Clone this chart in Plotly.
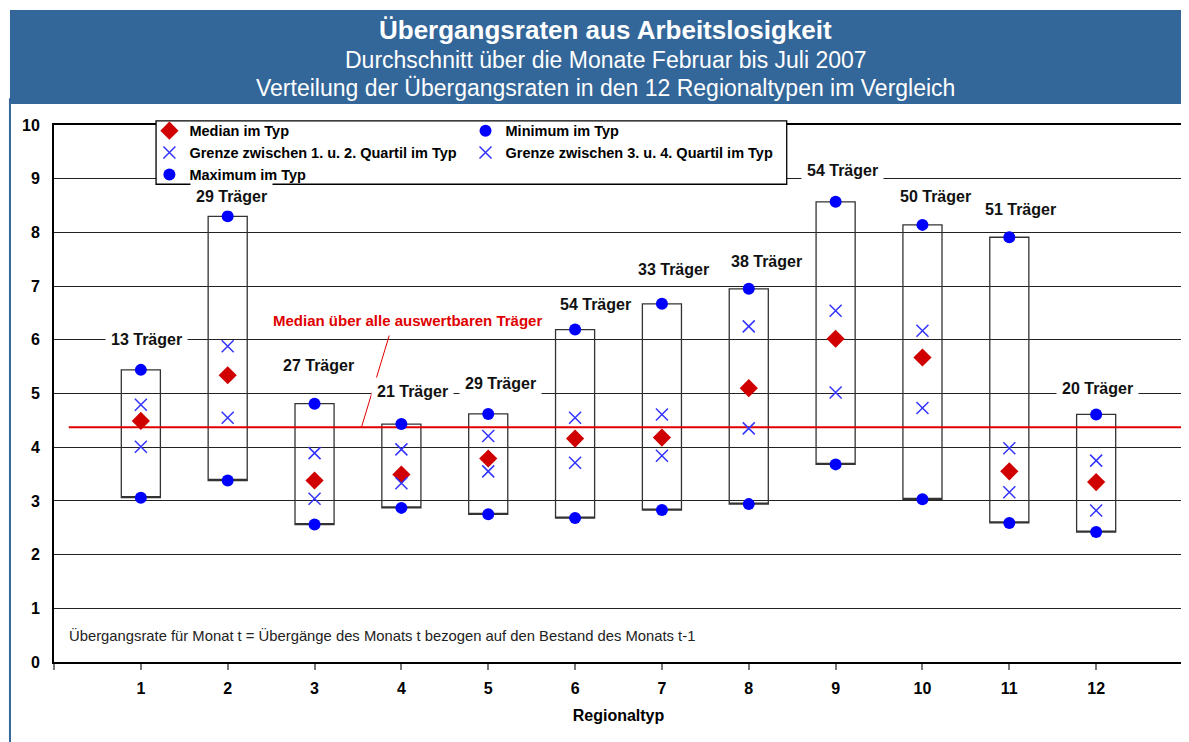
import plotly.graph_objects as go

# ---------------- data ----------------
types = [1, 2, 3, 4, 5, 6, 7, 8, 9, 10, 11, 12]
tick_labels = ["1", "2", "3", "4", "5", "6", "7", "8", "9", "10", "11", "12"]
maximum = [5.44, 8.30, 4.81, 4.43, 4.62, 6.19, 6.67, 6.95, 8.57, 8.14, 7.91, 4.61]
quartil_3_4 = [4.79, 5.88, 3.89, 3.96, 4.21, 4.55, 4.61, 6.25, 6.54, 6.17, 3.98, 3.75]
median = [4.49, 5.34, 3.38, 3.49, 3.79, 4.16, 4.18, 5.10, 6.02, 5.67, 3.55, 3.35]
quartil_1_2 = [4.01, 4.55, 3.04, 3.33, 3.55, 3.71, 3.84, 4.35, 5.02, 4.73, 3.16, 2.82]
minimum = [3.06, 3.38, 2.56, 2.87, 2.75, 2.68, 2.83, 2.94, 3.68, 3.03, 2.59, 2.42]
traeger = [13, 29, 27, 21, 29, 54, 33, 38, 54, 50, 51, 20]
median_gesamt = 4.37

# label placement (data coords)
label_x = [1.06, 2.04, 3.04, 4.13, 5.14, 6.23, 7.13, 8.20, 9.08, 10.15, 11.13, 12.02]
label_y = [6.0, 8.66, 5.53, 5.03, 5.18, 6.66, 7.31, 7.45, 9.16, 8.66, 8.42, 5.10]

FONT = "Liberation Sans, Arial, sans-serif"
BLUE_HDR = "#336699"
RED = "#E00000"

fig = go.Figure()

# min-max boxes
fig.add_trace(go.Box(
    x=types, q1=minimum, median=minimum, q3=maximum,
    lowerfence=minimum, upperfence=maximum,
    width=0.45, line=dict(color="#333333", width=1.3),
    fillcolor="rgba(0,0,0,0)", showlegend=False, hoverinfo="skip",
))

# overall median line
fig.add_trace(go.Scatter(
    x=[0.17, 13], y=[median_gesamt, median_gesamt], mode="lines",
    line=dict(color=RED, width=2), showlegend=False, hoverinfo="skip",
))

fig.add_trace(go.Scatter(
    x=types, y=median, mode="markers", name="Median im Typ",
    marker=dict(symbol="diamond", size=14, color="#D00000"),
    legend="legend",
))
fig.add_trace(go.Scatter(
    x=types, y=minimum, mode="markers", name="Minimum im Typ",
    marker=dict(symbol="circle", size=12, color="#0000FF"),
    legend="legend2",
))
fig.add_trace(go.Scatter(
    x=types, y=quartil_1_2, mode="markers",
    name="Grenze zwischen 1. u. 2. Quartil im Typ",
    marker=dict(symbol="x-thin-open", size=12, color="#3333FF",
                line=dict(width=1.5, color="#3333FF")),
    legend="legend",
))
fig.add_trace(go.Scatter(
    x=types, y=quartil_3_4, mode="markers",
    name="Grenze zwischen 3. u. 4. Quartil im Typ",
    marker=dict(symbol="x-thin-open", size=12, color="#3333FF",
                line=dict(width=1.5, color="#3333FF")),
    legend="legend2",
))
fig.add_trace(go.Scatter(
    x=types, y=maximum, mode="markers", name="Maximum im Typ",
    marker=dict(symbol="circle", size=12, color="#0000FF"),
    legend="legend",
))

annotations = []
# Träger labels
for lx, ly, n in zip(label_x, label_y, traeger):
    annotations.append(dict(
        x=lx, y=ly, xref="x", yref="y", text=f"<b>{n} Träger</b>",
        showarrow=False, font=dict(family=FONT, size=16, color="#111111"),
        bgcolor="white", borderpad=5,
    ))

# median label
annotations.append(dict(
    x=4.07, y=6.36, xref="x", yref="y",
    text="<b>Median über alle auswertbaren Träger</b>", showarrow=False,
    font=dict(family=FONT, size=15, color=RED),
))

# footnote
annotations.append(dict(
    x=0.0115, y=0.5, xref="paper", yref="y", xanchor="left",
    text="Übergangsrate für Monat t = Übergänge des Monats t bezogen auf den Bestand des Monats t-1",
    showarrow=False, font=dict(family=FONT, size=14.8, color="#222222"),
))

# titles
titles = [
    ("<b>Übergangsraten aus Arbeitslosigkeit</b>", 26, 1.1770),
    ("Durchschnitt über die Monate Februar bis Juli 2007", 23, 1.1210),
    ("Verteilung der Übergangsraten in den 12 Regionaltypen im Vergleich", 23, 1.0680),
]
for t, s, yy in titles:
    annotations.append(dict(
        x=0.4885, y=yy, xref="paper", yref="paper", text=t, showarrow=False,
        font=dict(family=FONT, size=s, color="white"), yanchor="middle",
    ))

shapes = [
    # header bar
    dict(type="rect", xref="paper", yref="paper", x0=-0.039, x1=1.006,
         y0=1.039, y1=1.214, fillcolor=BLUE_HDR, line=dict(width=0), layer="above"),
    # left blue border
    dict(type="line", xref="paper", yref="paper", x0=-0.039, x1=-0.039,
         y0=-0.16, y1=1.05, line=dict(color=BLUE_HDR, width=2), layer="above"),
    # legend box
    dict(type="rect", xref="paper", yref="paper", x0=0.0904, x1=0.649,
         y0=0.8897, y1=1.0075, fillcolor="white", line=dict(color="black", width=1.3),
         layer="above"),
    # leader line for median label
    dict(type="line", xref="x", yref="y", x0=3.86, y0=6.08, x1=3.54, y1=median_gesamt,
         line=dict(color=RED, width=1), layer="above"),
]

legend_common = dict(
    orientation="v", bgcolor="rgba(0,0,0,0)", borderwidth=0,
    font=dict(family=FONT, size=14.5, color="black", weight="bold"),
    xanchor="left", yanchor="top", tracegroupgap=0,
)

# the page body has an 8px margin: figure is sized so the plot area lands
# at the same page position as in the reference
fig.update_layout(
    width=1181, height=734,
    margin=dict(l=46, r=6, t=117, b=80),
    paper_bgcolor="white", plot_bgcolor="white",
    font=dict(family=FONT, color="black"),
    showlegend=True,
    legend=dict(x=0.0845, y=1.019, **legend_common),
    legend2=dict(x=0.3645, y=1.019, **legend_common),
    annotations=annotations,
    shapes=shapes,
    xaxis=dict(
        range=[0, 13], tickvals=list(range(0, 14)),
        ticktext=[""] + tick_labels + [""],
        showgrid=False, zeroline=False, automargin=False,
        showline=True, linecolor="black", linewidth=2, mirror=True,
        ticks="outside", ticklen=6, tickcolor="#777777", tickwidth=2,
        tickfont=dict(family=FONT, size=16, color="black", weight="bold"),
        ticklabelstandoff=5,
        title=dict(text="<b>Regionaltyp</b>", font=dict(family=FONT, size=16, color="black"),
                   standoff=14),
    ),
    yaxis=dict(
        range=[0, 10], dtick=1, tick0=0, automargin=False,
        showgrid=True, gridcolor="#222222", gridwidth=1, zeroline=False,
        showline=True, linecolor="black", linewidth=2, mirror=True,
        ticks="", ticklabelstandoff=9,
        tickfont=dict(family=FONT, size=16, color="black", weight="bold"),
    ),
)

fig.write_html("out.html")
